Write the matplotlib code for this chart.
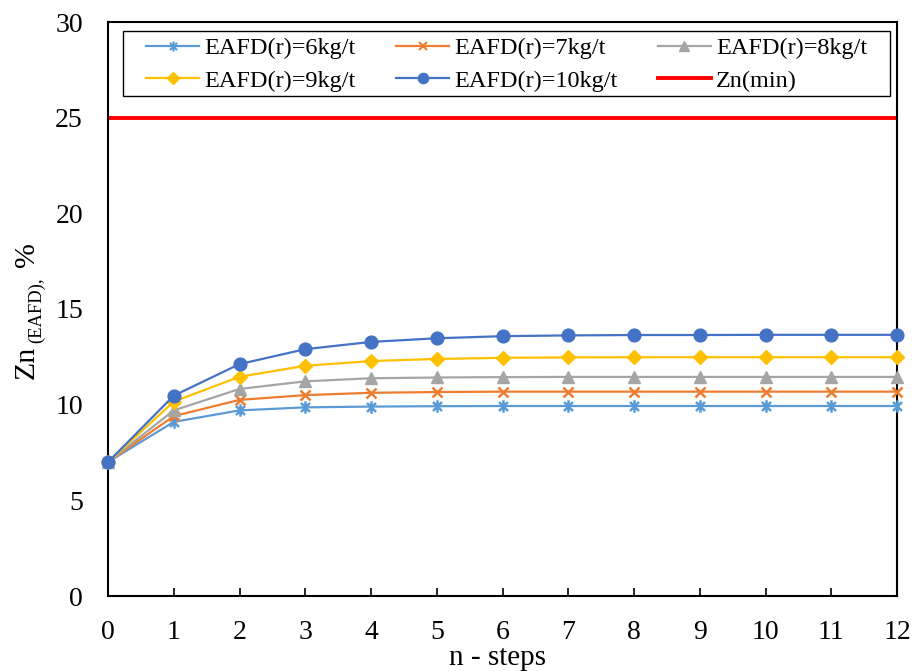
import matplotlib
matplotlib.use("Agg")
import matplotlib.pyplot as plt
from matplotlib.lines import Line2D
from matplotlib.path import Path
from matplotlib.patches import Rectangle

plt.rcParams['font.family'] = ['Liberation Serif', 'DejaVu Serif']

steps = list(range(13))
s6 = [7.0, 9.1, 9.7, 9.86, 9.9, 9.92, 9.93, 9.93, 9.93, 9.93, 9.93, 9.93, 9.93]
s7 = [7.0, 9.4, 10.25, 10.5, 10.62, 10.66, 10.68, 10.68, 10.68, 10.68, 10.68, 10.68, 10.68]
s8 = [7.0, 9.7, 10.82, 11.22, 11.38, 11.42, 11.44, 11.45, 11.45, 11.45, 11.45, 11.45, 11.45]
s9 = [7.0, 10.16, 11.46, 12.03, 12.28, 12.39, 12.45, 12.47, 12.48, 12.48, 12.48, 12.48, 12.48]
s10 = [7.0, 10.47, 12.12, 12.9, 13.28, 13.47, 13.58, 13.62, 13.64, 13.64, 13.65, 13.65, 13.65]
zn_min = 25
labels = ['EAFD(r)=6kg/t', 'EAFD(r)=7kg/t', 'EAFD(r)=8kg/t',
          'EAFD(r)=9kg/t', 'EAFD(r)=10kg/t', 'Zn(min)']

W, H = 916, 671
fig = plt.figure(figsize=(W / 100, H / 100), dpi=100)
ax = fig.add_axes([108/W, 1-596/H, (897-108)/W, (596-22)/H])

# Excel-style star marker: vertical bar + X
d = 0.72
star = Path([(0, -1), (0, 1), (-d, -d), (d, d), (-d, d), (d, -d)],
            [Path.MOVETO, Path.LINETO, Path.MOVETO, Path.LINETO, Path.MOVETO, Path.LINETO])

specs = [
    (s6, '#5B9BD5', star, 9, labels[0]),
    (s7, '#ED7D31', 'x', 7.5, labels[1]),
    (s8, '#A5A5A5', '^', 8.5, labels[2]),
    (s9, '#FFC000', 'D', 7.5, labels[3]),
    (s10, '#4472C4', 'o', 9.2, labels[4]),
]
handles = []
for data, c, m, ms, lab in specs:
    thin = not isinstance(m, str) or m == 'x'
    ax.plot(steps, data, color=c, marker=m, markersize=ms, lw=1.6,
            markeredgewidth=1.8 if thin else 1, markeredgecolor=c,
            clip_on=False, zorder=3)
    handles.append(Line2D([], [], color=c, marker=m, markersize=ms * 0.8, lw=1.6,
                          markeredgewidth=1.5 if thin else 1,
                          markeredgecolor=c, label=lab))
ax.axhline(zn_min, color='#FF0000', lw=2.8, zorder=2)
handles.append(Line2D([], [], color='#FF0000', lw=2.8, label=labels[5]))

ax.set_xlim(0, 12)
ax.set_ylim(0, 30)
ax.set_xticks(steps)
ax.set_yticks([0, 5, 10, 15, 20, 25, 30])
ax.tick_params(axis='x', labelsize=20, direction='in', length=5.5, width=1.2, pad=17)
ax.tick_params(axis='y', labelsize=20, length=0, pad=18)
for sp in ax.spines.values():
    sp.set_color('black')
    sp.set_linewidth(1.5)

ax.set_xlabel('n - steps', fontsize=21, va='baseline')
ax.xaxis.set_label_coords((497.5-108)/789, -(665-596)/574)

# y label: "Zn" + lowered small "(EAFD)," + "%"
r = fig.canvas.get_renderer()
t1 = fig.text(34/W, 1-379/H, 'Zn', fontsize=21.5, rotation=90,
              rotation_mode='anchor', ha='left', va='baseline')
b1 = t1.get_window_extent(r)
t2 = fig.text(41/W, (b1.y1 + 3)/H, '(EAFD),', fontsize=13.3, rotation=90,
              rotation_mode='anchor', ha='left', va='baseline')
b2 = t2.get_window_extent(r)
t3 = fig.text(34/W, (b2.y1 + 10)/H, '%', fontsize=21.5, rotation=90,
              rotation_mode='anchor', ha='left', va='baseline')

# legend
order = [0, 3, 1, 4, 2, 5]
leg = ax.legend(handles=[handles[i] for i in order], ncol=3, loc='upper left',
                bbox_to_anchor=((146-108)/789, (596-37)/574), fontsize=17.5,
                frameon=False, handlelength=2.2, borderpad=0, borderaxespad=0,
                columnspacing=1.65, labelspacing=0.45, handletextpad=0.2)
ax.add_patch(Rectangle(((123-108)/789, (596-96)/574), (890-123)/789, (96-31)/574,
                       transform=ax.transAxes, fill=False, edgecolor='black',
                       lw=1.0, zorder=5, clip_on=False))

fig.savefig('out.png', dpi=100)
